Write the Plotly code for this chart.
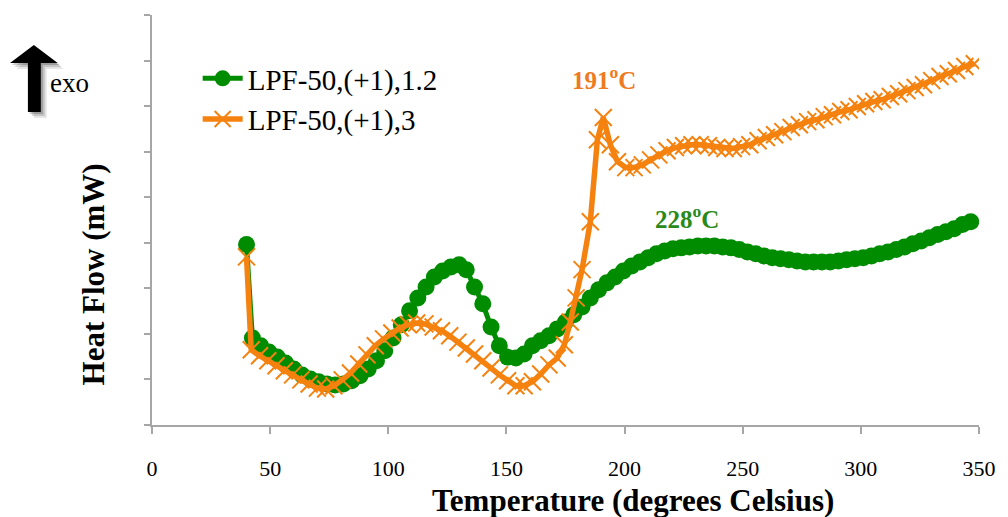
import plotly.graph_objects as go

# ---- data ----
green_name = "LPF-50,(+1),1.2"
green_T = [40, 42.5, 46, 49.5, 53, 56.5, 60, 63.5, 67, 70.5, 74, 77.5, 81, 84.5, 88, 91.5, 95, 98.5,
           102, 105.5, 109, 112.5, 116, 119.5, 123, 126.5, 130, 133, 136.5, 140, 143.5, 147, 150.5, 154,
           157.5, 161, 164.5, 168, 171.5, 175, 178.5, 182, 185.5, 189, 192.5, 196, 199.5, 203, 206.5,
           210, 213.5, 217, 220.5, 224, 227.5, 231, 234.5, 238, 241.5, 245, 248.5, 252, 255.5, 259,
           262.5, 266, 269.5, 273, 276.5, 280, 283.5, 287, 290.5, 294, 297.5, 301, 304.5, 308, 311.5,
           315, 318.5, 322, 325.5, 329, 332.5, 336, 339.5, 343, 346.5]
green_HF = [3.96, 1.91, 1.74, 1.60, 1.49, 1.36, 1.23, 1.10, 1.01, 0.95, 0.90, 0.88, 0.90, 0.97, 1.08,
            1.23, 1.41, 1.63, 1.91, 2.20, 2.51, 2.79, 3.03, 3.25, 3.38, 3.47, 3.52, 3.41, 3.03, 2.66,
            2.15, 1.74, 1.49, 1.47, 1.56, 1.74, 1.85, 1.96, 2.11, 2.26, 2.42, 2.59, 2.79, 2.97, 3.12,
            3.25, 3.38, 3.49, 3.58, 3.67, 3.76, 3.82, 3.87, 3.89, 3.91, 3.93, 3.93, 3.93, 3.91, 3.89,
            3.85, 3.80, 3.76, 3.71, 3.67, 3.65, 3.63, 3.60, 3.58, 3.58, 3.58, 3.58, 3.60, 3.63, 3.65,
            3.67, 3.71, 3.76, 3.80, 3.85, 3.91, 3.98, 4.04, 4.11, 4.18, 4.24, 4.31, 4.40, 4.46]

orange_name = "LPF-50,(+1),3"
orange_T = [40, 42, 45.5, 49, 52.5, 56, 59.5, 63, 66.5, 70, 73.5, 77, 80.5, 84, 87.5, 91, 94.5, 98,
            101.5, 105, 108.5, 112, 115.5, 119, 122.5, 126, 129.5, 133, 136.5, 140, 143.5, 147, 150.5,
            154, 157.5, 161, 164.5, 168, 171.5, 174.5, 177, 179.5, 182, 185.5, 188.5, 191, 194, 197,
            200.5, 204, 207.5, 211, 214.5, 218, 221.5, 225, 228.5, 232, 235.5, 239, 242.5, 246, 249.5,
            253, 256.5, 260, 263.5, 267, 270.5, 274, 277.5, 281, 284.5, 288, 291.5, 295, 298.5, 302,
            305.5, 309, 312.5, 316, 319.5, 323, 326.5, 330, 333.5, 337, 340.5, 344, 348]
orange_HF = [3.69, 1.65, 1.52, 1.41, 1.30, 1.19, 1.10, 0.99, 0.90, 0.81, 0.79, 0.86, 0.99, 1.14, 1.34,
             1.54, 1.74, 1.89, 2.02, 2.13, 2.20, 2.24, 2.22, 2.15, 2.07, 1.96, 1.82, 1.69, 1.56, 1.41,
             1.25, 1.10, 0.97, 0.86, 0.86, 0.95, 1.12, 1.32, 1.47, 1.76, 2.26, 2.79, 3.41, 4.46, 6.26,
             6.75, 6.15, 5.78, 5.65, 5.65, 5.71, 5.82, 5.93, 6.02, 6.09, 6.13, 6.15, 6.15, 6.13, 6.09,
             6.07, 6.07, 6.11, 6.15, 6.24, 6.31, 6.37, 6.44, 6.53, 6.59, 6.66, 6.70, 6.77, 6.81, 6.88,
             6.92, 6.99, 7.05, 7.10, 7.14, 7.21, 7.27, 7.34, 7.41, 7.47, 7.56, 7.65, 7.71, 7.78, 7.87,
             7.93]

x_ticks = [0, 50, 100, 150, 200, 250, 300, 350]
peak_labels = [("191<sup>o</sup>C", 191.5, 7.62, "#EE7A22"), ("228<sup>o</sup>C", 226.5, 4.57, "#2A8A18")]

GREEN = "#008C00"
ORANGE = "#F5820F"
AXIS = "#A6A6A6"
SERIF = "Liberation Serif, Times New Roman, serif"

W, H = 1008, 517
L, R, T, B = 152, 23, 15, 92
pw, ph = W - L - R, H - T - B


def px(xp):
    return (xp - L) / pw


def py(yp):
    return (H - B - yp) / ph


fig = go.Figure()
fig.add_trace(go.Scatter(
    x=green_T, y=green_HF, name=green_name, mode="lines+markers",
    line=dict(color=GREEN, width=5),
    marker=dict(symbol="circle", size=17, color=GREEN),
))
fig.add_trace(go.Scatter(
    x=orange_T, y=orange_HF, name=orange_name, mode="lines+markers",
    line=dict(color=ORANGE, width=5.5),
    marker=dict(symbol="x-thin", size=17, color=ORANGE, line=dict(color=ORANGE, width=2)),
))

for txt, xv, yv, col in peak_labels:
    fig.add_annotation(x=xv, y=yv, xref="x", yref="y", text="<b>" + txt + "</b>", showarrow=False,
                       font=dict(family=SERIF, size=25, color=col))

# axis titles
fig.add_annotation(x=px(636), y=py(500), xref="paper", yref="paper", text="<b>Temperature (degrees Celsius)</b>",
                   showarrow=False, font=dict(family=SERIF, size=31, color="black"),
                   xanchor="center", yanchor="middle")
fig.add_annotation(x=px(93), y=py(274), xref="paper", yref="paper", text="<b>Heat Flow (mW)</b>",
                   showarrow=False, textangle=-90, font=dict(family=SERIF, size=31, color="black"),
                   xanchor="center", yanchor="middle")
fig.add_annotation(x=px(47), y=py(83), xref="paper", yref="paper", text="exo",
                   showarrow=False, font=dict(family=SERIF, size=27, color="black"),
                   xanchor="left", yanchor="middle")


# exo arrow (decoration) with a soft shadow
def arrow_path(dx, dy):
    pts = [(33, 45), (57, 63), (40, 63), (40, 112), (27, 112), (27, 63), (9, 63)]
    return "M " + " L ".join(f"{px(x + dx):.5f},{py(y + dy):.5f}" for x, y in pts) + " Z"


for off, op in [(6, 0.10), (4, 0.15), (2, 0.2)]:
    fig.add_shape(type="path", xref="paper", yref="paper", path=arrow_path(off, off),
                  fillcolor="black", opacity=op, line=dict(width=0), layer="above")
fig.add_shape(type="path", xref="paper", yref="paper", path=arrow_path(0, 0),
              fillcolor="black", line=dict(width=0), layer="above")

fig.update_layout(
    width=W, height=H,
    margin=dict(l=L, r=R, t=T, b=B, pad=0),
    paper_bgcolor="white", plot_bgcolor="white",
    showlegend=True,
    legend=dict(x=px(198), y=py(53), xanchor="left", yanchor="top",
                font=dict(family=SERIF, size=29, color="black"),
                bgcolor="rgba(0,0,0,0)", itemwidth=40, tracegroupgap=0),
    xaxis=dict(range=[0, 350], tickmode="array", tickvals=x_ticks, ticktext=[str(v) for v in x_ticks],
               showgrid=False, zeroline=False, showline=True, linecolor=AXIS, linewidth=2,
               ticks="outside", ticklen=7, tickcolor=AXIS, tickwidth=2, ticklabelstandoff=16,
               tickfont=dict(family=SERIF, size=22, color="black")),
    yaxis=dict(range=[0, 9], dtick=1, tick0=0, showticklabels=False,
               showgrid=False, zeroline=False, showline=True, linecolor=AXIS, linewidth=2,
               ticks="outside", ticklen=6, tickcolor=AXIS, tickwidth=2),
)

fig.write_html("out.html", config={"displayModeBar": False},
               post_script="document.body.style.margin='0';document.body.style.overflow='hidden';")
